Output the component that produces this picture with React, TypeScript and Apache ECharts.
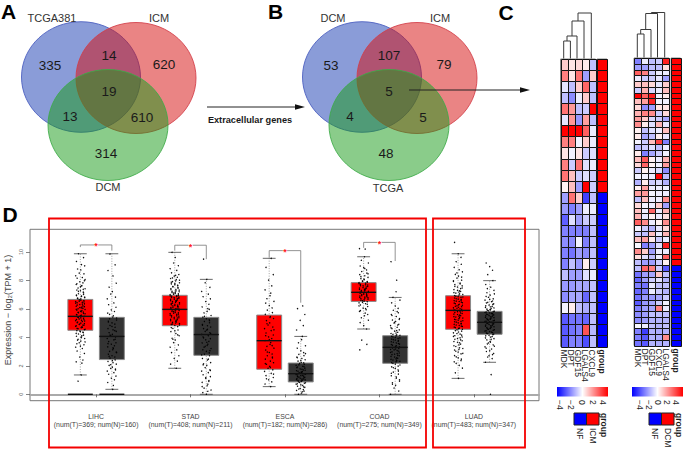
import React, { useEffect, useRef } from "react";
import * as echarts from "echarts";

// ---------- Panel D: expression boxplots ----------
const cancers = ["LIHC", "STAD", "ESCA", "COAD", "LUAD"];
const sampleNotes = [
  "(num(T)=369; num(N)=160)",
  "(num(T)=408; num(N)=211)",
  "(num(T)=182; num(N)=286)",
  "(num(T)=275; num(N)=349)",
  "(num(T)=483; num(N)=347)",
];
// low whisker, q1, median, q3, high whisker
const tumorStats = [
  [1.36, 4.5, 5.48, 6.67, 9.88],
  [1.83, 4.82, 5.97, 6.96, 9.98],
  [0.54, 1.76, 3.77, 5.57, 9.56],
  [4.59, 6.53, 7.17, 7.85, 9.67],
  [1.12, 4.57, 5.9, 6.93, 9.88],
];
const normalStats = [
  [0.35, 2.44, 4.07, 5.41, 9.88],
  [0, 2.74, 4.2, 5.41, 8.08],
  [0, 0.87, 1.45, 2.2, 4.07],
  [0, 2.18, 3.3, 4.12, 6.81],
  [2.25, 4.22, 5.06, 5.83, 7.99],
];
const lihcT = [9.88,9.61,9.34,9.12,9.03,8.81,8.74,8.52,8.47,8.33,8.21,8.16,7.98,7.91,7.83,7.72,7.64,7.61,7.47,7.42,7.33,7.28,7.19,7.07,7.02,6.94,6.88,6.83,6.76,6.71,6.66,6.58,6.52,6.47,6.44,6.36,6.31,6.22,6.19,6.13,6.07,6.01,5.96,5.92,5.84,5.78,5.74,5.69,5.61,5.56,5.48,5.43,5.37,5.29,5.24,5.18,5.12,5.03,4.97,4.94,4.87,4.82,4.74,4.68,4.61,4.57,4.48,4.41,4.33,4.24,4.16,4.08,4.03,3.92,3.81,3.74,3.62,3.48,3.31,3.22,3.04,2.87,2.62,2.41,2.28,2.19,1.36,0.92,
  8.06,7.77,7.55,7.38,7.24,7.13,6.98,6.91,6.79,6.73,6.62,6.55,6.49,6.41,6.34,6.27,6.16,6.1,6.04,5.98,5.89,5.81,5.76,5.66,5.59,5.53,5.46,5.39,5.33,5.26,5.21,5.15,5.08,5,4.91,4.85,4.78,4.71,4.63,4.54,4.45,4.37,4.28,4.12,3.98,3.87,3.68,3.55,3.39];
const lihcN = [9.86,9.1,8.7,8.32,7.81,7.53,7.22,7.05,6.83,6.71,6.42,6.3,6.12,5.93,5.82,5.71,5.52,5.43,5.31,5.22,5.14,5.02,4.93,4.84,4.71,4.62,4.53,4.42,4.33,4.21,4.12,4.04,3.92,3.83,3.71,3.62,3.52,3.41,3.33,3.22,3.13,3.02,2.93,2.82,2.71,2.62,2.54,2.42,2.31,2.23,2.12,2.03,1.91,1.82,1.71,1.63,1.52,1.41,1.28,1.13,1.02,0.83,0.62,0.35,
  5.62,5.36,5.08,4.77,4.48,4.16,3.87,3.56,3.27,2.97,2.67,2.37,2.08,1.77];
const stadT = [9.98,9.62,9.23,9.04,8.83,8.71,8.54,8.42,8.31,8.23,8.14,8.06,7.97,7.92,7.84,7.76,7.71,7.63,7.58,7.51,7.43,7.37,7.32,7.24,7.18,7.12,7.06,7.01,6.94,6.9,6.83,6.79,6.72,6.67,6.61,6.56,6.52,6.44,6.38,6.33,6.27,6.21,6.16,6.09,6.03,5.98,5.93,5.87,5.81,5.73,5.67,5.62,5.54,5.49,5.41,5.36,5.27,5.21,5.14,5.06,4.97,4.92,4.84,4.76,4.63,4.52,4.41,4.27,4.12,3.94,3.82,3.63,3.47,3.31,3.12,2.93,2.71,2.52,2.33,2.12,1.83,
  8.36,8.18,8.02,7.88,7.79,7.67,7.55,7.46,7.35,7.27,7.21,7.15,7.09,7.03,6.97,6.92,6.86,6.81,6.75,6.69,6.63,6.58,6.54,6.47,6.41,6.35,6.3,6.24,6.18,6.12,6.06,6.01,5.95,5.89,5.83,5.76,5.7,5.64,5.57,5.51,5.44,5.38,5.31,5.24,5.17,5.09,5.01,4.94,4.87,4.68,4.46,4.18,3.87];
const stadN = [9.5,8.08,7.84,7.52,7.23,7.04,6.86,6.71,6.52,6.33,6.14,6.02,5.83,5.72,5.54,5.42,5.31,5.23,5.12,5.03,4.91,4.82,4.73,4.62,4.51,4.42,4.33,4.21,4.12,4.03,3.91,3.83,3.72,3.61,3.52,3.44,3.31,3.22,3.13,3.02,2.91,2.82,2.71,2.52,2.41,2.23,2.14,2.03,1.87,1.72,1.63,1.52,1.37,1.24,1.12,0.97,0.84,0.71,0.6,0.43,0.3,0.12,0,
  5.97,5.48,5.17,4.86,4.57,4.27,3.97,3.66,3.37,3.07,2.77,2.47,2.07,1.67,1.18,0.91,0.54,0.21];
const escaT = [9.56,8.92,8.41,8.03,7.62,7.34,7.11,6.93,6.72,6.53,6.41,6.24,6.07,5.92,5.74,5.62,5.47,5.33,5.18,5.02,4.87,4.73,4.62,4.48,4.31,4.17,4.03,3.92,3.78,3.64,3.51,3.37,3.24,3.11,2.94,2.83,2.71,2.62,2.47,2.33,2.22,2.11,1.97,1.83,1.72,1.61,1.47,1.31,1.18,1.02,0.87,0.72,0.54,
  5.41,4.96,4.53,4.12,3.83,3.42,2.97,2.56,2.16,1.89,1.42,1.09];
const escaN = [6.21,6.02,5.61,5.2,4.83,4.52,4.07,3.84,3.62,3.41,3.24,3.06,2.93,2.81,2.72,2.61,2.52,2.43,2.33,2.24,2.17,2.11,2.03,1.97,1.92,1.84,1.78,1.71,1.66,1.59,1.53,1.47,1.42,1.36,1.31,1.27,1.21,1.16,1.11,1.06,1.01,0.96,0.91,0.84,0.78,0.71,0.63,0.57,0.49,0.41,0.33,0.27,0.18,0.09,0,
  2.86,2.57,2.38,2.21,2.07,1.95,1.87,1.76,1.69,1.62,1.56,1.5,1.44,1.39,1.33,1.24,1.19,1.13,1.08,1.03,0.98,0.93,0.88,0.81,0.74,0.66,0.52,0.37,0.22];
const coadT = [10.24,10.21,9.67,9.42,9.23,9.02,8.91,8.74,8.63,8.52,8.41,8.33,8.22,8.13,8.06,7.97,7.92,7.85,7.81,7.73,7.68,7.62,7.54,7.47,7.41,7.36,7.3,7.24,7.19,7.13,7.07,7.02,6.96,6.91,6.84,6.79,6.72,6.64,6.58,6.51,6.43,6.37,6.28,6.17,6.06,5.94,5.83,5.71,5.52,5.38,5.21,5.04,4.83,4.59,3.81,3.51,3.12,
  8.84,8.47,8.27,8.09,7.94,7.88,7.78,7.7,7.64,7.58,7.5,7.44,7.38,7.33,7.27,7.21,7.16,7.1,7.04,6.99,6.93,6.87,6.81,6.76,6.69,6.61,6.54,6.46,6.33,6.21,6.02,5.88,5.61];
const coadN = [9.32,8.02,7.21,6.81,6.62,6.43,6.21,6.04,5.91,5.73,5.61,5.47,5.33,5.22,5.12,5.01,4.92,4.83,4.71,4.62,4.53,4.44,4.36,4.27,4.18,4.11,4.03,3.96,3.88,3.81,3.73,3.66,3.57,3.5,3.41,3.33,3.26,3.18,3.12,3.03,2.94,2.86,2.79,2.71,2.62,2.53,2.46,2.37,2.28,2.17,2.06,1.93,1.82,1.71,1.56,1.42,1.3,1.14,1.02,0.81,0.63,0.44,0.23,0,
  5.81,5.54,5.27,5.06,4.87,4.67,4.48,4.31,4.21,4.14,4.07,3.99,3.92,3.84,3.77,3.69,3.61,3.53,3.45,3.37,3.29,3.22,3.15,3.07,2.98,2.9,2.82,2.74,2.66,2.57,2.49,2.41,2.32,2.23,2.12,1.98,1.87,1.63,1.48,1.22,0.93,0.71];
const luadT = [10.68,9.88,9.63,9.32,9.14,8.92,8.76,8.61,8.43,8.31,8.17,8.02,7.93,7.82,7.71,7.62,7.54,7.43,7.36,7.27,7.19,7.11,7.02,6.94,6.87,6.81,6.72,6.66,6.58,6.52,6.44,6.37,6.29,6.22,6.16,6.08,6.01,5.93,5.86,5.81,5.72,5.64,5.57,5.49,5.43,5.36,5.27,5.21,5.13,5.07,4.98,4.92,4.84,4.77,4.69,4.62,4.53,4.44,4.32,4.23,4.12,4.03,3.92,3.83,3.71,3.62,3.47,3.36,3.22,3.11,2.97,2.84,2.63,2.47,2.28,2.03,1.84,1.51,1.12,
  8.53,8.24,7.98,7.76,7.58,7.47,7.31,7.23,7.15,7.06,6.98,6.9,6.84,6.77,6.69,6.62,6.55,6.48,6.41,6.33,6.26,6.19,6.12,6.05,5.97,5.9,5.83,5.76,5.68,5.61,5.53,5.46,5.39,5.32,5.24,5.17,5.1,5.02,4.95,4.87,4.79,4.72,4.65,4.57,4.48,4.38,4.27,4.16,4.07,3.97,3.87,3.76,3.66,3.53,3.41,3.27,3.16,3.03,2.88,2.72,2.56,2.37,2.17];
const luadN = [9.23,8.98,8.72,8.41,7.99,7.72,7.53,7.31,7.14,6.97,6.82,6.71,6.62,6.51,6.42,6.36,6.27,6.18,6.11,6.03,5.96,5.91,5.84,5.78,5.72,5.67,5.61,5.56,5.51,5.44,5.39,5.33,5.28,5.22,5.17,5.12,5.06,5.02,4.96,4.91,4.84,4.79,4.72,4.66,4.6,4.54,4.47,4.41,4.33,4.27,4.19,4.11,4.02,3.91,3.82,3.73,3.61,3.47,3.33,3.18,3.01,2.87,2.72,2.51,2.25,1.38,0,
  7.43,7.06,6.88,6.67,6.56,6.46,6.32,6.22,6.14,6.07,5.99,5.93,5.87,5.81,5.75,5.69,5.63,5.58,5.53,5.47,5.41,5.36,5.3,5.25,5.2,5.14,5.09,5.04,4.98,4.93,4.87,4.81,4.75,4.69,4.63,4.57,4.5,4.44,4.37,4.3,4.23,4.15,4.06,3.96,3.86,3.67,3.54,3.38,3.24,3.06,2.79,2.62];
const tumorPoints = [lihcT, stadT, escaT, coadT, luadT];
const normalPoints = [lihcN, stadN, escaN, coadN, luadN];
const jitterSteps = [-0.02,0.034,-0.041,0.012,0.046,-0.029,0.005,-0.012,0.038,-0.049,0.021,-0.034,0.043,-0.006,0.027,-0.044,0.016,0.009,-0.024,0.05,-0.037,0.001,0.031];
// x position of tumour / normal pair, bracket top, left and right leg ends
const brackets = [
  [1, 10.5, 10.35, 10.1],
  [2, 10.48, 10.1, 9.5],
  [3, 10.1, 9.6, 6.44],
  [4, 10.68, 10.3, 9.37],
];
const zeroBarGroups = [1];

// ---------- Panel C: heatmaps ----------
const leftGenes = ["MDK", "DPT", "GDF15", "LGALS4", "CXCL9"];
const rightGenes = ["MDK", "DPT", "GDF15", "CXCL9", "LGALS4"];
const leftCells = [
  [0.8,0.4,0.6,0.3,-1],[2,0.4,2.2,-1.5,0.8],[-0.4,-1,0.8,2.4,-1],[-1,-1.8,-0.3,0.8,-1],[2.2,1.6,-1,-0.8,4],
  [-0.4,1.6,-1.6,1.5,-1],[4,4,4,2.5,-0.3],[2,2,-0.2,0.8,-0.3],[0.4,-0.2,0.4,-0.8,-0.5],[2,-0.8,2.2,-0.5,-0.3],
  [2.2,1,-0.8,-0.5,-0.8],[0.2,1,-1.5,4,-0.8],[-1.5,2.2,0.8,-3,-1],[-1.6,-2,-1.5,-0.3,-0.3],[-2.5,-0.5,-1.5,-0.8,-0.8],
  [-2,-2,-2,-2,-1],[-1.8,-1.8,-0.2,-2,-1],[-2,-2.2,-1.5,-1.8,-1],[-2,-1,-1.6,0.3,-0.8],[-1,-1.5,-1.5,-0.5,-0.3],
  [-1.6,-1.6,-1.4,-1.4,-1],[-1.8,-1.4,-1.4,-2.4,-1],[-0.2,0.3,-1,-1.3,-1],[-2.6,-2.2,-2.2,-2.4,-1],[-2.6,-2.2,-2,2.7,-1.1],
  [-2.6,-2,-2,-2.8,-1],
];
const rightCells = [
  [-2,-0.3,-1,-0.8,3.5],[-1.5,-1.5,-1,-1,0.5],[2.5,2,-0.8,-0.3,-0.3],[-0.3,-0.8,-0.8,-0.4,-1.5],[0.8,1,0.6,-0.4,0.8],
  [-0.8,1.2,-0.6,-0.3,1],[4,2.5,3.5,-0.2,0.3],[1,1.5,3.5,-0.2,-0.2],[0.6,-1.8,-1.5,0.4,0.4],[1.2,2,1.8,-0.8,0.6],
  [1.5,0.8,-0.6,-0.8,-1.4],[1.8,0.3,-0.5,1.2,-0.4],[0.2,-1,-0.5,-0.3,1],[0.3,-1.4,-1,0.3,-0.4],[-0.2,-0.8,1,3,-2],
  [-1,-0.8,-0.5,-1,-0.3],[0.3,-2,-1.4,-0.8,-0.2],[1,2.6,0.2,-0.3,1.2],[0.6,2.4,0.2,-0.2,1.6],[-0.8,0.2,-0.3,-0.6,-1.8],
  [-0.2,-0.2,-0.3,4,-1],[-1.2,0.3,-0.8,-0.6,-1.2],[0.2,1.5,-0.3,-0.3,-0.2],[1.5,1.6,-0.2,-0.3,-0.3],[-1,1,-0.3,-0.3,1.8],
  [0.6,-0.2,-0.3,0.8,-1.5],[1,-0.3,2.4,-0.3,1.2],[1.2,-0.4,0.2,-0.3,0.5],[2.5,1.8,-0.3,0.2,1.8],[-0.2,-0.8,-1.2,-0.4,0.6],
  [-0.8,-1,1,-0.3,1.2],[1,1.5,0.3,-0.8,-0.3],[-0.1,-2,-1.5,-0.5,3.5],[1.8,0.8,-1.5,-0.3,-0.3],[0.5,-0.5,-1,-0.3,2.5],
  [-1,-1.5,-1.5,-0.8,0.2],[-1,2.4,2,-0.8,-2.6],[-2.2,-1.5,-1.4,0.9,-1],[-2.4,-1.5,-0.8,-0.5,-1.2],[-2,-2.2,-0.4,-1,-1],
  [-2.4,-2,-0.3,-0.8,-1.2],[-2.2,-1.6,-1.6,-1.4,-0.8],[-2.6,-1.6,-1.4,-0.8,-0.2],[-2,-1.5,-1.4,2,-0.3],[-1.8,-1.5,-1,-1,-1],
  [-1.8,-1.5,-1.2,-1.2,-1.2],[-0.1,-0.3,-1,-1.2,-1],[-2,-3,-1.2,-1.3,-1.2],[-2,-2.6,-1.2,-1.3,1.8],[-2.2,-2.6,-1.2,-1.3,-1.2],
];
const leftGroupSizes = [12, 14];
const rightGroupSizes = [36, 14];
const colorTicks = ["−4", "−2", "0", "2", "4"];

// ---------- Panels A, B: Venn counts ----------
const vennASets = ["TCGA381", "ICM", "DCM"];
const vennACounts = ["335", "14", "620", "19", "13", "610", "314"];
const vennBSets = ["DCM", "ICM", "TCGA"];
const vennBCounts = ["53", "107", "79", "5", "4", "5", "48"];

const FONT = "'Liberation Sans', Arial, sans-serif";

function txt(text: string, x: number, y: number, size: number, o: any = {}) {
  return {
    type: "text", x, y, rotation: o.rotation || 0, silent: true, z: o.z ?? 20,
    style: {
      text, x: 0, y: 0, fill: o.fill || "#1a1a1a",
      font: `${o.weight || "normal"} ${size}px ${FONT}`,
      textAlign: o.align || "center", textVerticalAlign: o.valign || "middle",
    },
  };
}
function ell(cx: number, cy: number, rx: number, ry: number, rgb: string, strokeRgb: string) {
  return {
    type: "ellipse", silent: true, z: 5,
    shape: { cx, cy, rx, ry },
    style: { fill: `rgba(${rgb},0.5)`, stroke: `rgba(${strokeRgb},0.85)`, lineWidth: 1 },
  };
}
function venn(dx: number, sets: string[], counts: string[], labelPos: number[][], countPos: number[][]) {
  const out: any[] = [
    ell(81 + dx, 77, 59.5, 55.3, "21,57,177", "70,90,190"),
    ell(136 + dx, 78, 60, 55.5, "213,9,9", "210,60,70"),
    ell(108 + dx, 125, 60, 55.5, "21,153,21", "60,170,70"),
  ];
  sets.forEach((s, i) => out.push(txt(s, labelPos[i][0], labelPos[i][1], 11, { fill: "#333" })));
  counts.forEach((c, i) => out.push(txt(c, countPos[i][0], countPos[i][1], 13.5)));
  return out;
}
function arrow(x1: number, x2: number, y: number) {
  return [
    { type: "line", silent: true, z: 25, shape: { x1, y1: y, x2: x2 - 8, y2: y }, style: { stroke: "#222", lineWidth: 1 } },
    { type: "polygon", silent: true, z: 25, shape: { points: [[x2, y], [x2 - 10, y - 2.8], [x2 - 10, y + 2.8]] }, style: { fill: "#111" } },
  ];
}
function dendro(paths: number[][][]) {
  return paths.map((points) => ({
    type: "polyline", silent: true, z: 10, shape: { points },
    style: { stroke: "#3a3a3a", lineWidth: 1, fill: "none" },
  }));
}
function colorBar(x: number, w: number, y: number, tickX: number[]) {
  return [
    {
      type: "rect", silent: true, z: 10, shape: { x, y, width: w, height: 9.5 },
      style: {
        fill: new echarts.graphic.LinearGradient(0, 0, 1, 0, [
          { offset: 0, color: "#0000ff" }, { offset: 0.5, color: "#ffffff" }, { offset: 1, color: "#ff0000" },
        ]),
      },
    },
    ...colorTicks.map((t, i) => txt(t, tickX[i], 400, 8.5, { rotation: -Math.PI / 2, align: "left" })),
  ];
}
function groupKey(x: number, labels: string[], lx: number[], gx: number) {
  return [
    { type: "rect", silent: true, z: 10, shape: { x, y: 413, width: 12.5, height: 12 }, style: { fill: "#0000ff", stroke: "#222", lineWidth: 1 } },
    { type: "rect", silent: true, z: 10, shape: { x: x + 12.5, y: 413, width: 12.5, height: 12 }, style: { fill: "#ff0000", stroke: "#222", lineWidth: 1 } },
    txt("group", gx, 413, 8.5, { rotation: -Math.PI / 2, align: "left", weight: "bold" }),
    ...labels.map((l, i) => txt(l, lx[i], 428, 8.5, { rotation: -Math.PI / 2, align: "left" })),
  ];
}

function heat(rows: number[][]) {
  const out: number[][] = [];
  rows.forEach((r, y) => r.forEach((v, x) => out.push([x, y, v])));
  return out;
}
function strip(sizes: number[]) {
  const out: number[][] = [];
  for (let i = 0; i < sizes[0] + sizes[1]; i++) out.push([0, i, i < sizes[0] ? 4 : -4]);
  return out;
}
function rowNames(n: number) {
  const out: string[] = [];
  for (let i = 0; i < n; i++) out.push("r" + (i + 1));
  return out;
}

const PAIR = 0.167;
const BOX_HALF = 0.132;
const CAP_HALF = 0.068;

function renderCell(_: any, api: any) {
  const c = api.coord([api.value(0), api.value(1)]);
  const s = api.size([1, 1]);
  const x0 = Math.round(c[0] - s[0] / 2) + 0.5;
  const x1 = Math.round(c[0] + s[0] / 2) + 0.5;
  const y0 = Math.round(c[1] - s[1] / 2) + 0.5;
  const y1 = Math.round(c[1] + s[1] / 2) + 0.5;
  return {
    type: "rect",
    shape: { x: x0, y: y0, width: x1 - x0, height: y1 - y0 },
    style: { fill: api.visual("color"), stroke: "#141414", lineWidth: 1 },
  };
}
function renderBox(_: any, api: any) {
  const x = api.value(0);
  const fill = api.value(6) === 0 ? "#ff0000" : "#333333";
  const low = api.coord([x, api.value(1)]);
  const q1 = api.coord([x - BOX_HALF, api.value(2)]);
  const q3 = api.coord([x + BOX_HALF, api.value(4)]);
  const high = api.coord([x, api.value(5)]);
  const capA = api.coord([x - CAP_HALF, 0])[0];
  const capB = api.coord([x + CAP_HALF, 0])[0];
  const stroke = { stroke: "#444", lineWidth: 0.8 };
  return {
    type: "group",
    children: [
      { type: "line", shape: { x1: low[0], y1: low[1], x2: high[0], y2: high[1] }, style: { stroke: "#666", lineWidth: 0.6, lineDash: [1, 1.5] } },
      { type: "line", shape: { x1: capA, y1: low[1], x2: capB, y2: low[1] }, style: stroke },
      { type: "line", shape: { x1: capA, y1: high[1], x2: capB, y2: high[1] }, style: stroke },
      {
        type: "rect",
        shape: { x: q1[0], y: q3[1], width: q3[0] - q1[0], height: q1[1] - q3[1] },
        style: { fill, stroke: "#8a8a8a", lineWidth: 1 },
      },
    ],
  };
}
function renderMedian(_: any, api: any) {
  const x = api.value(0);
  const a = api.coord([x - BOX_HALF, api.value(1)]);
  const b = api.coord([x + BOX_HALF, api.value(1)]);
  return { type: "line", shape: { x1: a[0], y1: a[1], x2: b[0], y2: b[1] }, style: { stroke: "#111", lineWidth: api.value(2) } };
}
function renderBracket(_: any, api: any) {
  const g = api.value(0);
  const tl = api.coord([g - PAIR, api.value(1)]);
  const tr = api.coord([g + PAIR, api.value(1)]);
  const ll = api.coord([g - PAIR, api.value(2)]);
  const rl = api.coord([g + PAIR, api.value(3)]);
  return {
    type: "group",
    children: [
      { type: "polyline", shape: { points: [ll, tl, tr, rl] }, style: { stroke: "#777", lineWidth: 0.8, fill: "none" } },
      { type: "circle", shape: { cx: (tl[0] + tr[0]) / 2, cy: tl[1], r: 2.2 }, style: { fill: "#fff" } },
      { type: "text", style: { text: "*", x: (tl[0] + tr[0]) / 2, y: tl[1] + 1.5, fill: "#ff2020", font: `bold 9px ${FONT}`, textAlign: "center", textVerticalAlign: "middle" } },
    ],
  };
}

function buildOption() {
  const boxes: number[][] = [];
  const medians: number[][] = [];
  const points: number[][] = [];
  [tumorStats, normalStats].forEach((stats, kind) => {
    stats.forEach((s, g) => {
      const x = g + 1 + (kind === 0 ? -PAIR : PAIR);
      boxes.push([x, s[0], s[1], s[2], s[3], s[4], kind]);
      medians.push([x, s[2], 1.4]);
      const list = (kind === 0 ? tumorPoints : normalPoints)[g];
      list.forEach((v, i) => points.push([x + jitterSteps[(i + g * 5) % jitterSteps.length], v]));
    });
  });
  zeroBarGroups.forEach((g) => {
    medians.push([g - PAIR, 0, 1.4]);
    medians.push([g + PAIR, 0, 1.4]);
  });

  const hGrid = (left: number, width: number, top: number) => ({
    left, width, top, height: 287.5, containLabel: false, show: true,
    backgroundColor: "transparent", borderColor: "#8a8a8a", borderWidth: 1,
  });
  const hx = (gridIndex: number, data: string[], weight = "normal") => ({
    type: "category", gridIndex, data, position: "bottom",
    axisLine: { show: false }, axisTick: { show: false }, splitLine: { show: false },
    axisLabel: { interval: 0, rotate: -90, fontSize: 8.5, fontWeight: weight, margin: 3, color: "#1a1a1a", fontFamily: FONT },
  });
  const hy = (gridIndex: number, n: number) => ({
    type: "category", gridIndex, data: rowNames(n), inverse: true, show: false,
  });
  const hs = (i: number, data: number[][]) => ({
    type: "custom", xAxisIndex: i, yAxisIndex: i, data, renderItem: renderCell,
    encode: { x: 0, y: 1 }, silent: true, clip: false,
  });

  const graphic: any[] = [
    ...venn(0, vennASets, vennACounts,
      [[52, 18], [159, 18], [108, 187]],
      [[50, 65], [109, 55], [164, 64], [109, 91], [70, 116], [142, 117], [106, 153]]),
    ...venn(281, vennBSets, vennBCounts,
      [[333, 18], [440, 18], [388, 188]],
      [[331, 65], [389, 55], [444, 64], [389, 91], [350, 116], [423, 117], [386, 153]]),
    ...arrow(207, 305, 107),
    ...arrow(409, 530, 90),
    txt("Extracellular genes", 250, 120, 9.2, { weight: "bold" }),
    txt("A", 8.5, 11, 21, { weight: "bold", fill: "#000" }),
    txt("B", 275.5, 11.5, 21, { weight: "bold", fill: "#000" }),
    txt("C", 506, 12.5, 21, { weight: "bold", fill: "#000" }),
    txt("D", 10, 214, 21, { weight: "bold", fill: "#000" }),
    txt("Expression − log₂(TPM + 1)", 8, 310, 9, { rotation: Math.PI / 2, fill: "#444" }),
    ...dendro([
      [[563.7, 58.5], [563.7, 41], [570.4, 41], [570.4, 58.5]],
      [[567, 41], [567, 36], [577, 36], [577, 58.5]],
      [[572, 36], [572, 21], [584, 21], [584, 58.5]],
      [[578, 21], [578, 13], [591.3, 13], [591.3, 58.5]],
      [[637.3, 57.5], [637.3, 34], [644, 34], [644, 57.5]],
      [[640.7, 34], [640.7, 29.5], [651, 29.5], [651, 57.5]],
      [[645.7, 29.5], [645.7, 13.5], [657.5, 13.5], [657.5, 57.5]],
      [[651.4, 13.5], [651.4, 12.5], [664.7, 12.5], [664.7, 57.5]],
    ]),
    ...colorBar(557, 51, 387, [560, 571, 582, 593, 603]),
    ...colorBar(632, 51, 387, [640, 649, 658, 667, 676]),
    ...groupKey(574, ["NF", "ICM"], [580, 593], 604),
    ...groupKey(649, ["NF", "DCM"], [655, 668], 679),
    { type: "rect", silent: true, z: 30, shape: { x: 49, y: 218.5, width: 377, height: 229 }, style: { fill: "none", stroke: "#f40000", lineWidth: 1.8 } },
    { type: "rect", silent: true, z: 30, shape: { x: 433, y: 218.5, width: 92, height: 229 }, style: { fill: "none", stroke: "#f40000", lineWidth: 1.8 } },
  ];

  return {
    animation: false,
    backgroundColor: "#ffffff",
    textStyle: { fontFamily: FONT },
    visualMap: {
      type: "continuous", show: false, min: -4, max: 4, dimension: 2, seriesIndex: [0, 1, 2, 3],
      inRange: { color: ["#0000ff", "#ffffff", "#ff0000"] },
    },
    grid: [
      hGrid(560.5, 35, 59),
      hGrid(597, 10, 59),
      hGrid(634, 35, 58),
      hGrid(671, 9.5, 58),
      { left: 30, width: 509, top: 229.3, height: 171.4, containLabel: false, show: true, backgroundColor: "transparent", borderColor: "#777", borderWidth: 1 },
    ],
    xAxis: [
      hx(0, leftGenes),
      hx(1, ["group"], "bold"),
      hx(2, rightGenes),
      hx(3, ["group"], "bold"),
      {
        type: "value", gridIndex: 4, min: 0.3, max: 5.69, splitLine: { show: false },
        axisLine: { show: true, lineStyle: { color: "#aaa", width: 2 } },
        axisTick: { show: true, length: 3, customValues: [1, 2, 3, 4, 5], lineStyle: { color: "#555", width: 0.8 } },
        axisLabel: {
          show: true, customValues: [1, 2, 3, 4, 5], margin: 11, fontSize: 6.9, lineHeight: 8.8, color: "#444",
          formatter: (v: number) => `${cancers[Math.round(v) - 1]}\n${sampleNotes[Math.round(v) - 1]}`,
        },
      },
    ],
    yAxis: [
      hy(0, leftCells.length),
      hy(1, leftCells.length),
      hy(2, rightCells.length),
      hy(3, rightCells.length),
      {
        type: "value", gridIndex: 4, min: -0.45, max: 11.6, splitLine: { show: false },
        axisLine: { show: false },
        axisTick: { show: true, length: 4, customValues: [0, 2, 4, 6, 8, 10], lineStyle: { color: "#666", width: 0.8 } },
        axisLabel: { show: true, customValues: [0, 2, 4, 6, 8, 10], rotate: 90, fontSize: 5.5, margin: 6, color: "#555" },
      },
    ],
    series: [
      hs(0, heat(leftCells)),
      hs(1, strip(leftGroupSizes)),
      hs(2, heat(rightCells)),
      hs(3, strip(rightGroupSizes)),
      { type: "custom", xAxisIndex: 4, yAxisIndex: 4, renderItem: renderBox, data: boxes, encode: { x: 0, y: 1 }, z: 2, silent: true },
      {
        type: "scatter", xAxisIndex: 4, yAxisIndex: 4, data: points, symbol: "circle", symbolSize: 1.4, z: 3, silent: true,
        itemStyle: { color: "#000", opacity: 0.95 }, large: false,
      },
      { type: "custom", xAxisIndex: 4, yAxisIndex: 4, renderItem: renderMedian, data: medians, encode: { x: 0, y: 1 }, z: 4, silent: true },
      { type: "custom", xAxisIndex: 4, yAxisIndex: 4, renderItem: renderBracket, data: brackets, encode: { x: 0, y: 1 }, z: 4, silent: true },
    ],
    graphic: { elements: graphic },
  };
}

export default function App() {
  const ref = useRef<HTMLDivElement>(null);
  useEffect(() => {
    const chart = echarts.init(ref.current!, undefined, { renderer: "svg" });
    chart.setOption(buildOption() as any);
    return () => chart.dispose();
  }, []);
  return <div ref={ref} style={{ position: "absolute", left: 0, top: 0, width: 685, height: 450 }} />;
}
